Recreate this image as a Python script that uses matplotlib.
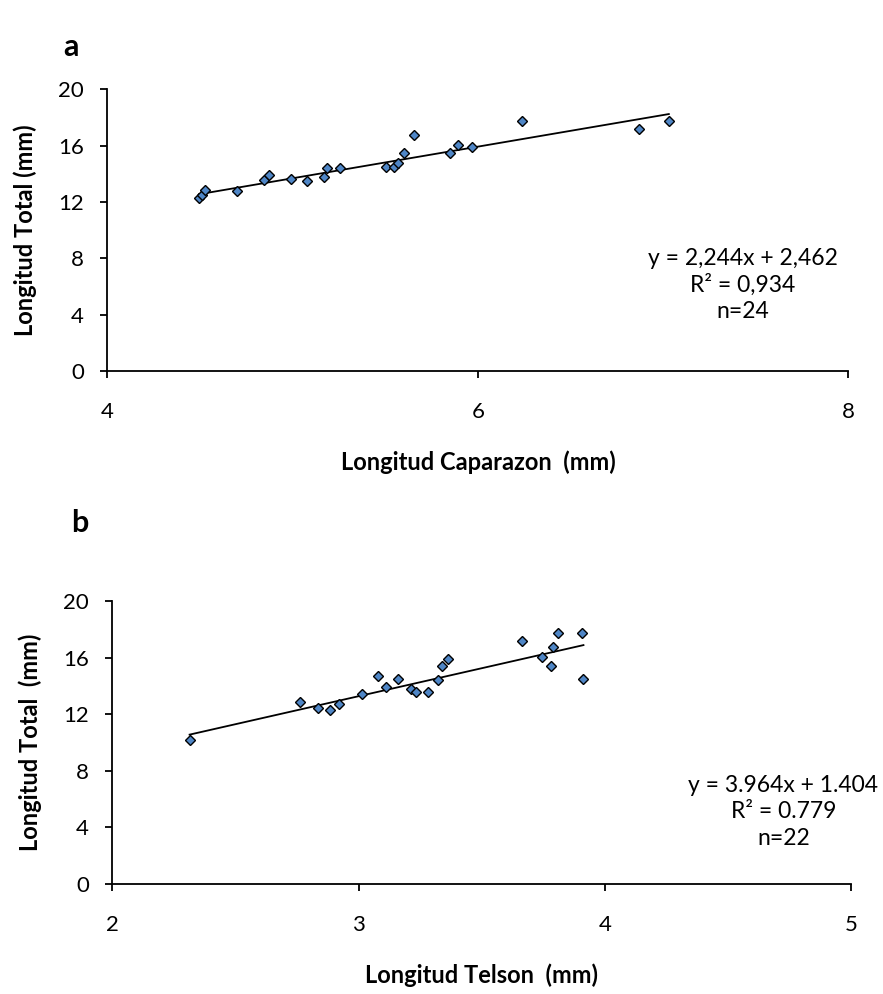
import matplotlib
matplotlib.use("Agg")
import matplotlib.pyplot as plt
import numpy as np

plt.rcParams['font.family'] = ['Lato', 'DejaVu Sans']

# Panel a: carapace length vs total length
carapace_len = [4.495, 4.51, 4.525, 4.698, 4.847, 4.871, 4.99, 5.076, 5.171, 5.184,
                5.257, 5.504, 5.549, 5.569, 5.599, 5.655, 5.847, 5.892, 5.966,
                6.236, 6.869, 7.031]
total_len_a = [12.29, 12.5, 12.88, 12.76, 13.59, 13.88, 13.61, 13.47, 13.74, 14.43,
               14.43, 14.45, 14.45, 14.73, 15.45, 16.74, 15.45, 16.02, 15.88,
               17.74, 17.16, 17.74]
slope_a, intercept_a = 2.244, 2.462

# Panel b: telson length vs total length
telson_len = [2.313, 2.760, 2.833, 2.882, 2.921, 3.012, 3.076, 3.109, 3.159, 3.213,
              3.231, 3.280, 3.320, 3.337, 3.361, 3.661, 3.742, 3.781, 3.790,
              3.807, 3.904, 3.912]
total_len_b = [10.19, 12.90, 12.47, 12.32, 12.75, 13.47, 14.75, 13.92, 14.49, 13.78,
               13.61, 13.61, 14.46, 15.45, 15.90, 17.18, 16.04, 15.45, 16.75,
               17.74, 17.74, 14.49]
slope_b, intercept_b = 3.964, 1.404

yticks = [0, 4, 8, 12, 16, 20]

fig = plt.figure(figsize=(8.83, 9.94), dpi=100)
ax_a = fig.add_axes([0.1217, 0.6268, 0.8390, 0.2834])
ax_b = fig.add_axes([0.1274, 0.1107, 0.8369, 0.2842])

marker_kw = dict(marker='D', linestyle='none', ms=5.2, mfc='#4F86C6',
                 mec='black', mew=1.0, zorder=3)


def style(ax, xlim, xticks):
    ax.set_xlim(*xlim)
    ax.set_ylim(0, 20)
    ax.set_xticks(xticks)
    ax.set_yticks(yticks)
    for s in ('top', 'right'):
        ax.spines[s].set_visible(False)
    for s in ('left', 'bottom'):
        ax.spines[s].set_linewidth(1.3)
    ax.tick_params(direction='out', length=5, width=1.3, labelsize=16)
    ax.tick_params(axis='y', pad=12)
    ax.tick_params(axis='x', pad=17)


# Panel a
ax_a.plot(carapace_len, total_len_a, **marker_kw)
xa = np.array([min(carapace_len), max(carapace_len)])
ax_a.plot(xa, slope_a * xa + intercept_a, color='black', lw=1.3, zorder=2)
style(ax_a, (4, 8), [4, 6, 8])
ax_a.set_xlabel('Longitud Caparazon  (mm)', fontsize=17, fontweight='bold', labelpad=21)
ax_a.set_ylabel('Longitud Total (mm)', fontsize=17, fontweight='bold', labelpad=15)
ax_a.text(0.858, 0.305, 'y = 2,244x + 2,462\nR² = 0,934\nn=24', transform=ax_a.transAxes,
          ha='center', va='center', fontsize=16.5, linespacing=1.3)

# Panel b
ax_b.plot(telson_len, total_len_b, **marker_kw)
xb = np.array([min(telson_len), max(telson_len)])
ax_b.plot(xb, slope_b * xb + intercept_b, color='black', lw=1.3, zorder=2)
style(ax_b, (2, 5), [2, 3, 4, 5])
ax_b.set_xlabel('Longitud Telson  (mm)', fontsize=17, fontweight='bold', labelpad=21)
ax_b.set_ylabel('Longitud Total  (mm)', fontsize=17, fontweight='bold', labelpad=15)
ax_b.text(0.908, 0.255, 'y = 3.964x + 1.404\nR² = 0.779\nn=22', transform=ax_b.transAxes,
          ha='center', va='center', fontsize=16.5, linespacing=1.3)

fig.text(71 / 883, 1 - 47 / 994, 'a', fontsize=22, fontweight='bold', ha='center', va='center')
fig.text(80 / 883, 1 - 523 / 994, 'b', fontsize=22, fontweight='bold', ha='center', va='center')

fig.savefig('out.png', dpi=100)
